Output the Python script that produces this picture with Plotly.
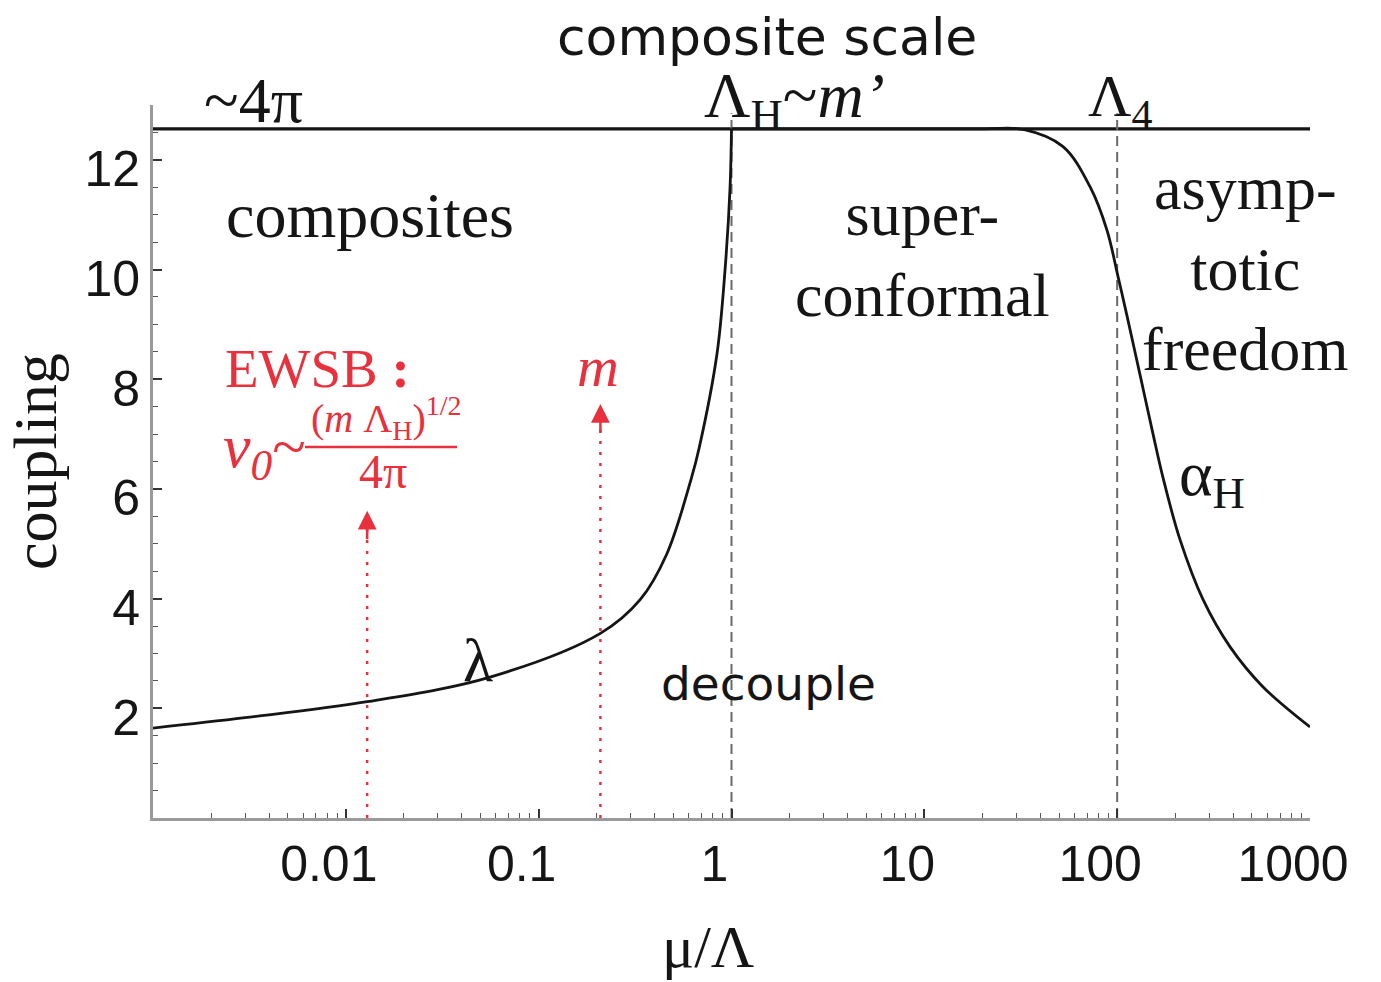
import numpy as np
import plotly.graph_objects as go

FOUR_PI = 4 * np.pi

# scalar coupling lambda, running up to the composite scale
lam_mu = [0.001, 0.003, 0.0129, 0.056, 0.21, 0.336, 0.46, 0.62, 0.68, 0.84, 0.926, 0.983, 1.0]
lam_val = [1.64, 1.83, 2.12, 2.57, 3.37, 3.98, 4.8, 6.2, 6.75, 8.45, 10.0, 11.5, FOUR_PI]

# hidden gauge coupling alpha_H: conformal plateau, then asymptotic freedom
alpha_mu = [1.0, 20.0, 33.0, 52.4, 72.3, 88.5, 100.9, 112.4, 131.4, 153.5, 173.0,
            212.0, 279.0, 385.0, 571.0, 1000.0]
alpha_val = [FOUR_PI, FOUR_PI, 12.55, 12.24, 11.51, 10.72, 9.88, 9.16, 8.08, 7.0, 6.2,
             5.07, 3.98, 3.12, 2.39, 1.66]

# strong-coupling ceiling ~4 pi across the whole range
ceiling_mu = [0.001, 1000.0]

# scales Lambda_H and Lambda_4
scale_mu = [1.0, 100.0]
scale_top = 12.85

# EWSB scale v0 and mass m (red arrows)
arrow_mu = [0.0129, 0.209]
arrow_tip = [5.6, 7.55]

x_ticks = [0.01, 0.1, 1, 10, 100, 1000]
x_ticktext = ["0.01", "0.1", "1", "10", "100", "1000"]
y_ticks = [2, 4, 6, 8, 10, 12]

RED = "#e8313c"
INK = "#151515"
SERIF = "Liberation Serif, Times New Roman, serif"
SANS = "Liberation Sans, Arial, sans-serif"
GOTHIC = "DejaVu Sans, Noto Sans, sans-serif"

W, H = 1381, 982
ML, MR, MT, MB = 153, 71, 105, 164
PW, PH = W - ML - MR, H - MT - MB

fig = go.Figure()

fig.add_trace(go.Scatter(x=ceiling_mu, y=[FOUR_PI] * len(ceiling_mu), mode="lines",
                         line=dict(color=INK, width=3.2), hoverinfo="skip"))

for s in scale_mu:
    fig.add_trace(go.Scatter(x=[s, s], y=[0, scale_top], mode="lines",
                             line=dict(color="#6a6a6a", width=2, dash="10px,6px"),
                             hoverinfo="skip"))

for a, t in zip(arrow_mu, arrow_tip):
    fig.add_trace(go.Scatter(x=[a, a], y=[0, t - 0.3], mode="lines",
                             line=dict(color=RED, width=2.5, dash="3px,8px"),
                             hoverinfo="skip"))

fig.add_trace(go.Scatter(x=lam_mu, y=lam_val, mode="lines",
                         line=dict(color=INK, width=2.8, shape="spline", smoothing=1.0),
                         hoverinfo="skip"))
fig.add_trace(go.Scatter(x=alpha_mu, y=alpha_val, mode="lines",
                         line=dict(color=INK, width=2.8, shape="spline", smoothing=1.0),
                         hoverinfo="skip"))


def paper(px, py):
    return (px - ML) / PW, (H - MB - py) / PH


def label(text, px, py, size, family=SERIF, color=INK, align="center"):
    x, y = paper(px, py)
    fig.add_annotation(x=x, y=y, xref="paper", yref="paper", text=text, showarrow=False,
                       font=dict(family=family, size=size, color=color), align=align,
                       xanchor="center", yanchor="middle")


# arrowheads on the red markers
for a, t in zip(arrow_mu, arrow_tip):
    fig.add_annotation(x=np.log10(a), y=t, xref="x", yref="y", ax=0, ay=30, text="",
                       showarrow=True, arrowhead=2, arrowsize=1.5, arrowwidth=2.5,
                       arrowcolor=RED)

label("composite scale", 767, 37, 52, family=GOTHIC)
label("~4π", 253, 100, 64)
label("Λ<sub>H</sub>~<i>m’</i>", 794, 100, 64)
label("Λ<sub>4</sub>", 1120, 100, 60)
label("composites", 370, 215, 64)
label("super-<br>conformal", 922, 254, 62)
label("asymp-<br>totic<br>freedom", 1245, 268, 62)
label("α<sub>H</sub>", 1212, 478, 64)
label("λ", 478, 660, 62)
label("decouple", 768, 683, 47, family=GOTHIC)

label("EWSB <b>:</b>", 317, 368, 55, color=RED)
label("<i>v<sub>0</sub></i>~", 264, 450, 62, color=RED)
label("(<i>m</i> Λ<sub>H</sub>)<sup>1/2</sup>", 386, 418, 40, color=RED)
label("4π", 383, 472, 48, color=RED)
label("<i>m</i>", 598, 366, 58, color=RED)

# x-axis title
label("μ/Λ", 708, 947, 60)

x0, y0 = paper(305, 447)
x1, _ = paper(457, 447)
fig.add_shape(type="line", xref="paper", yref="paper", x0=x0, x1=x1, y0=y0, y1=y0,
              line=dict(color=RED, width=2.5))

fig.update_xaxes(type="log", range=[-3, 3], tickmode="array", tickvals=x_ticks,
                 ticktext=x_ticktext, ticks="inside", ticklen=9, tickwidth=1.5,
                 tickcolor="#333", showline=True, linecolor="#9a9a9a", linewidth=3,
                 showgrid=False, zeroline=False, ticklabelshift=-17,
                 tickfont=dict(family=SANS, size=50, color=INK),
                 minor=dict(ticks="inside", ticklen=5, tickwidth=1.2, tickcolor="#555",
                            dtick="D1", showgrid=False))
fig.update_yaxes(range=[0, 13], tickmode="array", tickvals=y_ticks, ticks="inside",
                 ticklen=9, tickwidth=1.5, tickcolor="#333", showline=True,
                 linecolor="#9a9a9a", linewidth=3, showgrid=False, zeroline=False,
                 ticklabelshift=9,
                 tickfont=dict(family=SANS, size=50, color=INK),
                 minor=dict(tickmode="linear", tick0=0, dtick=0.5, ticks="inside",
                            ticklen=5, tickwidth=1.2, tickcolor="#555", showgrid=False),
                 title=dict(text="coupling", font=dict(family=SERIF, size=62, color=INK),
                            standoff=8))

fig.update_layout(width=W, height=H, margin=dict(l=ML, r=MR, t=MT, b=MB),
                  paper_bgcolor="white", plot_bgcolor="white", showlegend=False)

fig.write_html("out.html")
